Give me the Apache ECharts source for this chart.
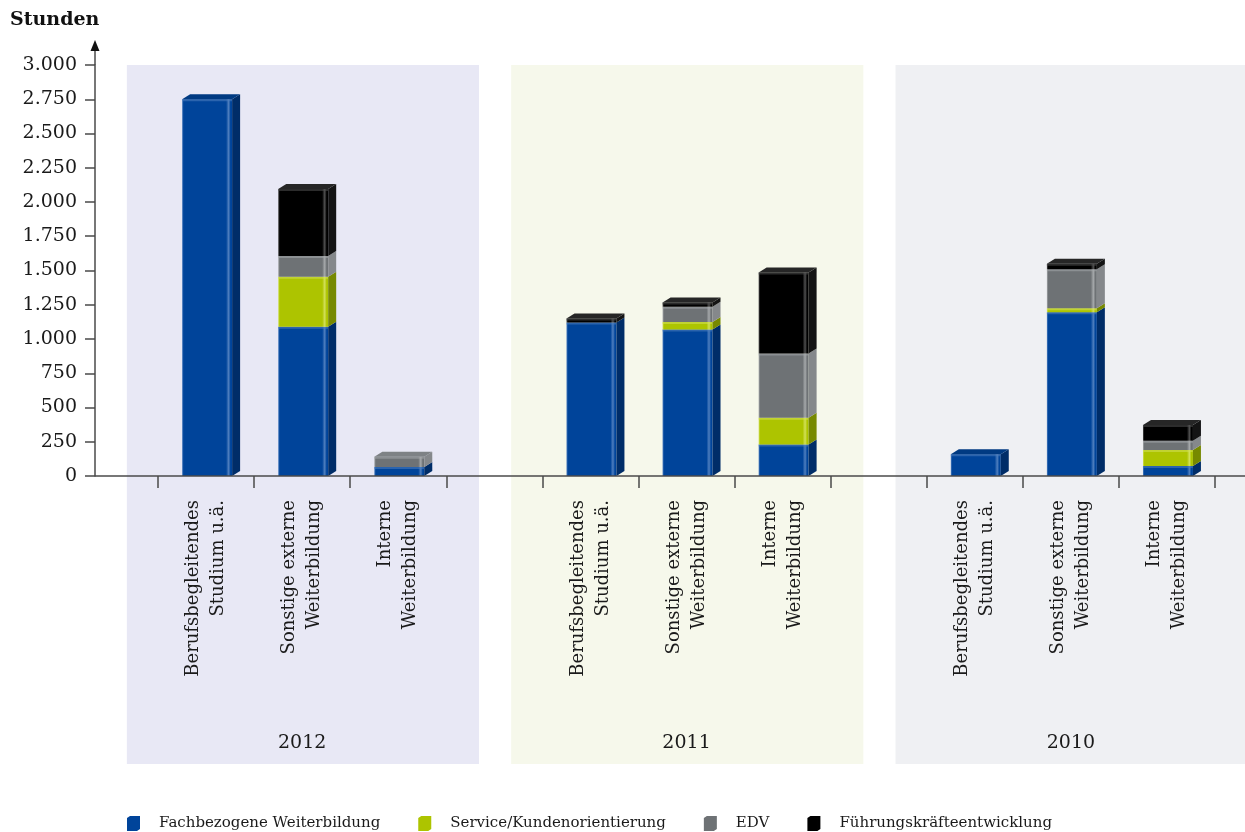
<!DOCTYPE html>
<html>
<head>
<meta charset="utf-8">
<script src="https://cdn.jsdelivr.net/npm/echarts@6/dist/echarts.min.js"></script>
<style>
  html, body { margin: 0; padding: 0; background: #ffffff; }
  #chart { width: 1245px; height: 832px; }
</style>
</head>
<body>
<div id="chart"></div>
<script>
// Category slots along the x axis; empty slots separate the year groups
const categories = [
  '', 'Berufsbegleitendes\nStudium u.ä.', 'Sonstige externe\nWeiterbildung', 'Interne\nWeiterbildung',
  '', 'Berufsbegleitendes\nStudium u.ä.', 'Sonstige externe\nWeiterbildung', 'Interne\nWeiterbildung',
  '', 'Berufsbegleitendes\nStudium u.ä.', 'Sonstige externe\nWeiterbildung', 'Interne\nWeiterbildung'
];
const years = ['2012', '2011', '2010'];
const seriesNames = ['Fachbezogene Weiterbildung', 'Service/Kundenorientierung', 'EDV', 'Führungskräfteentwicklung'];

// Stunden per slot (null = spacer slot)
const fachbezogene = [null, 2750, 1090, 65, null, 1120, 1070, 230, null, 158, 1195, 73];
const service      = [null, 0, 365, 0, null, 0, 55, 195, null, 0, 30, 117];
const edv          = [null, 0, 151, 75, null, 0, 110, 470, null, 0, 285, 68];
const fuehrung     = [null, 0, 489, 0, null, 30, 32, 590, null, 0, 40, 114];

const yTicks = { min: 0, max: 3000, interval: 250 };

const layers = [fachbezogene, service, edv, fuehrung];

// Face colours for each stack layer: front, highlight, side, top
const palette = [
  { front: '#00449a', light: '#4f7fbf', side: '#002d68', top: '#003a82' },
  { front: '#adc400', light: '#d2e05a', side: '#778900', top: '#98ad00' },
  { front: '#6e7275', light: '#a6a9ab', side: '#85888b', top: '#7e8285' },
  { front: '#000000', light: '#505050', side: '#141414', top: '#262626' }
];

const FONT = '"DejaVu Serif", "Liberation Serif", serif';

function buildLayer(k) {
  return categories.map(function (c, i) {
    const v = layers[k][i];
    if (v == null || v === 0) return [i, 0, 0, 0];
    let base = 0;
    for (let j = 0; j < k; j++) base += layers[j][i] || 0;
    let isTop = 1;
    for (let j = k + 1; j < layers.length; j++) if (layers[j][i]) isTop = 0;
    return [i, v, base, isTop];
  });
}

function makeRender(k) {
  const pal = palette[k];
  return function (params, api) {
    const idx = api.value(0);
    const val = api.value(1);
    const base = api.value(2);
    const isTop = api.value(3);
    if (!val) return null;
    const p0 = api.coord([idx, base]);
    const p1 = api.coord([idx, base + val]);
    const slotW = api.size([1, 0])[0];
    const w = slotW * 0.52;
    const dx = 8, dy = 5;
    const x0 = p0[0] - w / 2 + 1;
    const x1 = x0 + w;
    const yb = p0[1];
    const yt = p1[1];
    const children = [
      {
        type: 'rect',
        shape: { x: x0, y: yt, width: w, height: yb - yt },
        style: {
          fill: {
            type: 'linear', x: 0, y: 0, x2: 1, y2: 0,
            colorStops: [
              { offset: 0, color: pal.light },
              { offset: 0.03, color: pal.front },
              { offset: 0.88, color: pal.front },
              { offset: 0.93, color: pal.light },
              { offset: 0.97, color: pal.front },
              { offset: 1, color: pal.front }
            ]
          }
        }
      },
      {
        type: 'rect',
        shape: { x: x0, y: yt, width: w, height: Math.min(2, yb - yt) },
        style: { fill: pal.light, opacity: 0.55 }
      },
      {
        type: 'polygon',
        shape: { points: [[x1, yb], [x1 + dx, yb - dy], [x1 + dx, yt - dy], [x1, yt]] },
        style: { fill: pal.side }
      }
    ];
    if (isTop) {
      children.push({
        type: 'polygon',
        shape: { points: [[x0, yt], [x0 + dx, yt - dy], [x1 + dx, yt - dy], [x1, yt]] },
        style: { fill: pal.top }
      });
    }
    return { type: 'group', children: children };
  };
}

const chart = echarts.init(document.getElementById('chart'), null, { renderer: 'canvas' });

const option = {
  backgroundColor: '#ffffff',
  animation: false,
  grid: { left: 62, right: 30, top: 65, bottom: 356, containLabel: false },
  legend: {
    left: 127,
    top: 816,
    padding: 0,
    itemWidth: 13,
    itemHeight: 15,
    itemGap: 38,
    icon: 'path://M0,2 L10,2 L10,15 L0,15 Z M10,2 L13,0 L13,13 L10,15 Z M0,2 L3,0 L13,0 L10,2 Z',
    data: seriesNames,
    textStyle: { fontFamily: FONT, fontSize: 15, color: '#1a1a1a', padding: [0, 0, 0, 14] }
  },
  xAxis: [
    {
      type: 'category',
      data: categories,
      position: 'bottom',
      axisLine: { show: false },
      axisTick: {
        show: true,
        length: 12,
        interval: function (index) { return index !== 0; },
        lineStyle: { color: '#4a4a4a', width: 1.5 }
      },
      axisLabel: {
        interval: 0,
        rotate: 90,
        margin: 24,
        fontFamily: FONT,
        fontSize: 18,
        lineHeight: 25,
        color: '#1a1a1a'
      },
      splitLine: { show: false }
    },
    {
      type: 'category',
      data: categories.map(function (c, i) {
        return (i % 4 === 2) ? years[(i - 2) / 4] : '';
      }),
      position: 'bottom',
      offset: 0,
      axisLine: { show: false },
      axisTick: { show: false },
      axisLabel: {
        interval: 0,
        margin: 258,
        fontFamily: FONT,
        fontSize: 19,
        color: '#1a1a1a'
      },
      splitLine: { show: false }
    }
  ],
  yAxis: {
    type: 'value',
    min: yTicks.min,
    max: yTicks.max,
    interval: yTicks.interval,
    position: 'left',
    offset: -33,
    axisLine: { show: true, lineStyle: { color: '#4a4a4a', width: 1.5 } },
    axisTick: { show: true, length: 10, lineStyle: { color: '#4a4a4a', width: 1.5 } },
    axisLabel: {
      margin: 18,
      fontFamily: FONT,
      fontSize: 19,
      color: '#1a1a1a',
      formatter: function (v) {
        return String(v).replace(/\B(?=(\d{3})+(?!\d))/g, '.');
      }
    },
    splitLine: { show: false }
  },
  series: seriesNames.map(function (name, k) {
    return {
      name: name,
      type: 'custom',
      coordinateSystem: 'cartesian2d',
      xAxisIndex: 0,
      yAxisIndex: 0,
      itemStyle: { color: palette[k].front },
      renderItem: makeRender(k),
      encode: { x: 0, y: [1, 2] },
      data: buildLayer(k),
      z: 3
    };
  })
};

chart.setOption(option);

// Decorations placed from the axis scales: year bands, x axis line, y axis arrow
function px(idx, val) {
  return chart.convertToPixel({ gridIndex: 0 }, [idx, val]);
}
const slotW = px(2, 0)[0] - px(1, 0)[0];
const yZero = px(1, yTicks.min)[1];
const yTop = px(1, yTicks.max)[1];
const yAxisX = 62 + 33;
const bandBottom = 764;
const bandColors = ['#e8e8f5', '#f6f8eb', '#eff0f3'];

const graphics = [];
years.forEach(function (y, g) {
  const first = 1 + g * 4;
  const left = px(first, 0)[0] - slotW * 0.5 - slotW * 0.325;
  const right = px(first + 2, 0)[0] + slotW * 0.5 + slotW * 0.34;
  graphics.push({
    type: 'rect',
    z: -10,
    shape: { x: left, y: yTop, width: right - left, height: bandBottom - yTop },
    style: { fill: bandColors[g] }
  });
});
graphics.push({
  type: 'line',
  z: 5,
  shape: { x1: yAxisX, y1: yZero, x2: chart.getWidth(), y2: yZero },
  style: { stroke: '#4a4a4a', lineWidth: 1.5 }
});
graphics.push({
  type: 'line',
  z: 5,
  shape: { x1: yAxisX, y1: yTop, x2: yAxisX, y2: yTop - 16 },
  style: { stroke: '#4a4a4a', lineWidth: 1.5 }
});
graphics.push({
  type: 'polygon',
  z: 5,
  shape: { points: [[yAxisX, yTop - 25], [yAxisX - 4.5, yTop - 14], [yAxisX + 4.5, yTop - 14]] },
  style: { fill: '#111111' }
});
graphics.push({
  type: 'text',
  z: 5,
  style: {
    text: 'Stunden',
    x: 10,
    y: 20,
    verticalAlign: 'middle',
    font: 'bold 19px ' + FONT,
    fill: '#111111'
  }
});

chart.setOption({ graphic: graphics });
</script>
</body>
</html>
